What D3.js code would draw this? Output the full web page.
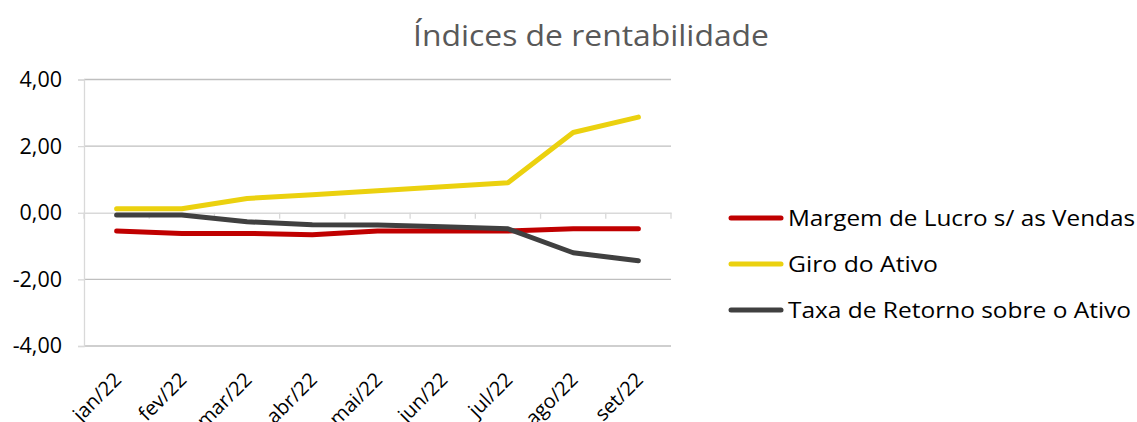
<!DOCTYPE html>
<html>
<head>
<meta charset="utf-8">
<script src="https://d3js.org/d3.v7.min.js"></script>
<style>
    body { margin: 0; background: #fff; }
    text { font-family: "Open Sans", "Noto Sans", sans-serif; }
</style>
</head>
<body>
<div id="chart"></div>
<script>
    // data
    var months = ["jan/22", "fev/22", "mar/22", "abr/22", "mai/22", "jun/22", "jul/22", "ago/22", "set/22"];
    var margem = [-0.55, -0.62, -0.62, -0.66, -0.55, -0.55, -0.55, -0.48, -0.48];
    var giro = [0.12, 0.12, 0.43, 0.54, 0.66, 0.78, 0.90, 2.41, 2.87];
    var taxa = [-0.07, -0.07, -0.27, -0.36, -0.37, -0.42, -0.48, -1.20, -1.44];
    var yTicks = [-4, -2, 0, 2, 4];
    var seriesNames = ["Margem de Lucro s/ as Vendas", "Giro do Ativo", "Taxa de Retorno sobre o Ativo"];
    var legendWidths = [347, 150, 343];
    var colors = ["#C00000", "#EBD10F", "#404040"];

    var series = [margem, giro, taxa];

    var width = 1137, height = 422;
    var margin = { top: 79.5, left: 84, right: 466, bottom: 76 };

    var svg = d3.select("#chart").append("svg")
        .attr("width", width)
        .attr("height", height);

    svg.append("text")
        .attr("x", 591)
        .attr("y", 46)
        .attr("text-anchor", "middle")
        .attr("font-size", 30)
        .attr("fill", "#595959")
        .attr("textLength", 356)
        .attr("lengthAdjust", "spacingAndGlyphs")
        .text("Índices de rentabilidade");

    var x = d3.scaleBand()
        .domain(months)
        .range([margin.left, width - margin.right]);

    var y = d3.scaleLinear()
        .domain([-4, 4])
        .range([height - margin.bottom, margin.top]);

    // gridlines
    svg.append("g")
        .selectAll("line")
        .data(yTicks.filter(function (d) { return d != 0; }))
        .enter()
        .append("line")
        .attr("x1", margin.left)
        .attr("x2", width - margin.right)
        .attr("y1", function (d) { return y(d); })
        .attr("y2", function (d) { return y(d); })
        .attr("stroke", "#bfbfbf")
        .attr("stroke-width", 1.3);

    // y axis
    var yAxis = svg.append("g")
        .attr("transform", "translate(" + margin.left + ",0)")
        .call(d3.axisLeft(y).tickValues(yTicks).tickSize(6).tickPadding(16)
            .tickFormat(function (d) { return d3.format(".2f")(d).replace(".", ",").replace("−", "-"); }));
    yAxis.select(".domain").attr("stroke", "#d9d9d9").attr("stroke-width", 1.3);
    yAxis.selectAll(".tick line").attr("stroke", "#d9d9d9").attr("stroke-width", 1.3);
    yAxis.selectAll("text")
        .attr("font-size", 21.5)
        .attr("fill", "#000");

    // x axis on zero
    var xAxis = svg.append("g")
        .attr("transform", "translate(0," + y(0) + ")")
        .call(d3.axisBottom(x).tickSize(0).tickFormat(""));
    xAxis.select(".domain").attr("stroke", "#d9d9d9").attr("stroke-width", 1.3);

    var bounds = x.domain().map(function (d) { return x(d); }).concat([x.range()[1]]);
    svg.append("g")
        .selectAll("line")
        .data(bounds)
        .enter()
        .append("line")
        .attr("x1", function (d) { return d; })
        .attr("x2", function (d) { return d; })
        .attr("y1", y(0))
        .attr("y2", y(0) + 6)
        .attr("stroke", "#d9d9d9")
        .attr("stroke-width", 1.3);

    // rotated month labels
    svg.append("g")
        .selectAll("text")
        .data(months)
        .enter()
        .append("text")
        .attr("transform", function (d) {
            return "translate(" + (x(d) + x.bandwidth() / 2 + 6) + "," + 381 + ") rotate(-45)";
        })
        .attr("text-anchor", "end")
        .attr("font-size", 20)
        .attr("fill", "#000")
        .text(function (d) { return d; });

    // lines
    var line = d3.line()
        .x(function (d, i) { return x(months[i]) + x.bandwidth() / 2; })
        .y(function (d) { return y(d); });

    svg.append("g")
        .selectAll("path")
        .data(series)
        .enter()
        .append("path")
        .attr("fill", "none")
        .attr("stroke", function (d, i) { return colors[i]; })
        .attr("stroke-width", 5)
        .attr("stroke-linecap", "round")
        .attr("stroke-linejoin", "round")
        .attr("d", line);

    // legend
    var legend = svg.append("g")
        .selectAll("g")
        .data(seriesNames)
        .enter()
        .append("g")
        .attr("transform", function (d, i) { return "translate(0," + (218 + i * 46) + ")"; });

    legend.append("line")
        .attr("x1", 731)
        .attr("x2", 781)
        .attr("stroke", function (d, i) { return colors[i]; })
        .attr("stroke-width", 5)
        .attr("stroke-linecap", "round");

    legend.append("text")
        .attr("x", 788)
        .attr("y", 8)
        .attr("font-size", 22)
        .attr("fill", "#000")
        .attr("textLength", function (d, i) { return legendWidths[i]; })
        .attr("lengthAdjust", "spacingAndGlyphs")
        .text(function (d) { return d; });
</script>
</body>
</html>
